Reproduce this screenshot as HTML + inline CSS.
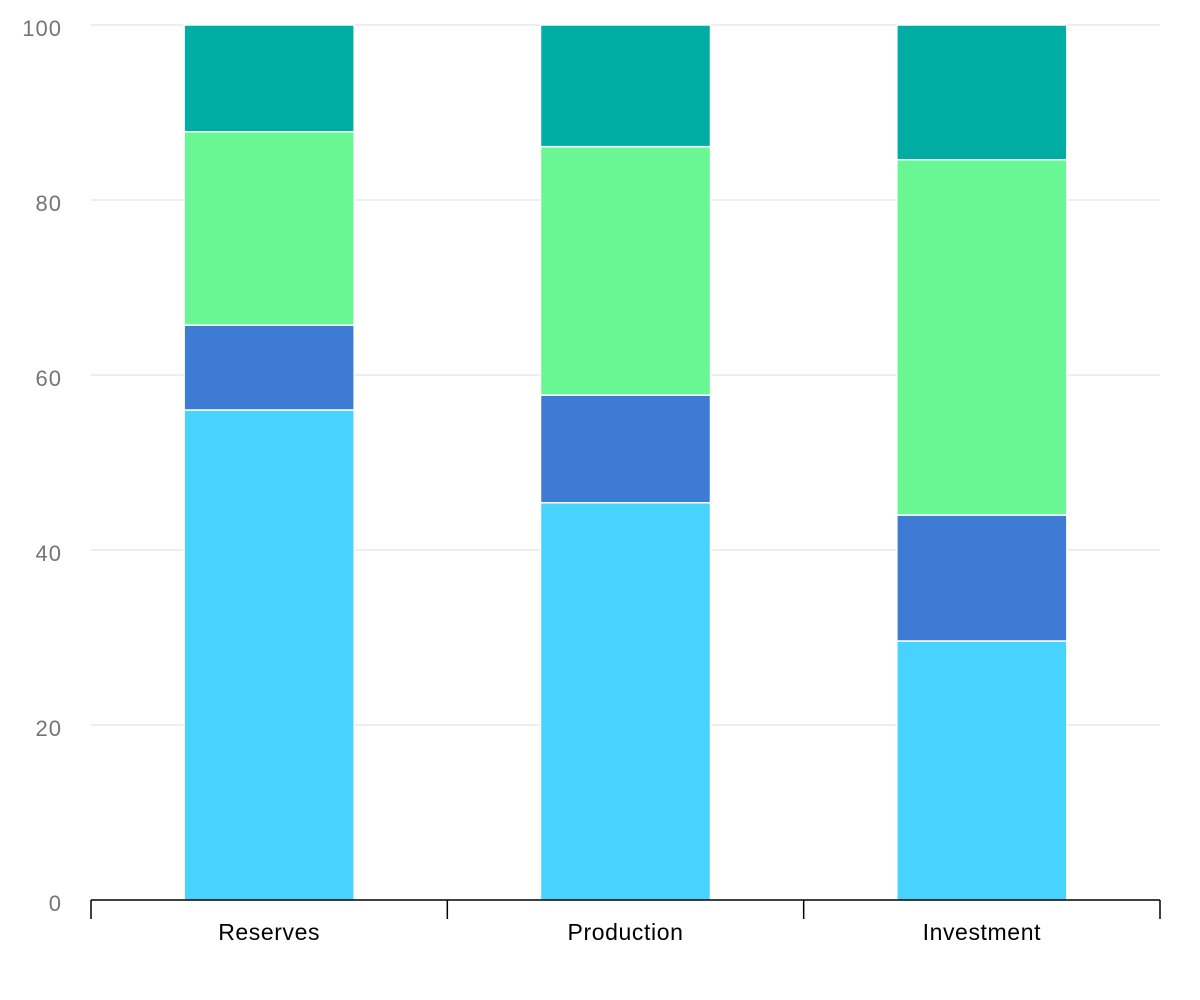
<!DOCTYPE html>
<html><head><meta charset="utf-8"><style>
html,body{margin:0;padding:0;background:#fff;width:1200px;height:1000px;overflow:hidden}
text{font-family:"Liberation Sans",sans-serif}
</style></head><body>
<svg id="chart" width="1200" height="1000"></svg>
<script>
const categories=["Reserves","Production","Investment"];
const series1=[56.0,45.4,29.6];
const series2=[9.7,12.3,14.4];
const series3=[22.1,28.4,40.6];
const series4=[12.2,13.9,15.4];
const yTicks=[0,20,40,60,80,100];
const colors=["#48d3ff","#3d7bd4","#69f794","#00ada2"];
const allSeries=[series1,series2,series3,series4];

const svg=document.getElementById('chart');
const NS="http://www.w3.org/2000/svg";
const x0=91,x1=1160,yTop=25,yBot=900;
const y=v=>yBot-(v/100)*(yBot-yTop);
const band=(x1-x0)/categories.length;
const barW=170;
function el(tag,attrs){const e=document.createElementNS(NS,tag);for(const k in attrs)e.setAttribute(k,attrs[k]);svg.appendChild(e);return e;}

yTicks.forEach(t=>{
  if(t>0){const g=el('line',{x1:x0,x2:x1,y1:y(t),y2:y(t),stroke:'#dddddd','stroke-width':1});
  
  }
  const l=el('text',{x:62,y:y(t)+11,'text-anchor':'end','font-size':22,'letter-spacing':1,fill:'#757575'});
  l.textContent=t;
  
  
});

categories.forEach((c,i)=>{
  const cx=x0+band*(i+0.5);
  let cum=0;
  allSeries.forEach((s,j)=>{
    const v=s[i];
    const r=el('rect',{x:cx-barW/2,y:y(cum+v),width:barW,height:y(cum)-y(cum+v),fill:colors[j],stroke:'#fff','stroke-width':1.5});
    
    
    cum+=v;
  });
  const l=el('text',{x:cx,y:940,'text-anchor':'middle','font-size':23,'letter-spacing':0.6,fill:'#000'});
  l.textContent=c;
  
  
});

const ax=el('line',{x1:x0,x2:x1,y1:yBot,y2:yBot,stroke:'#000','stroke-width':1.5});


for(let i=0;i<=categories.length;i++){
  const tx=x0+band*i;
  const t=el('line',{x1:tx,x2:tx,y1:yBot,y2:yBot+19,stroke:'#000','stroke-width':1.5});
  
  
}
</script>
</body></html>
